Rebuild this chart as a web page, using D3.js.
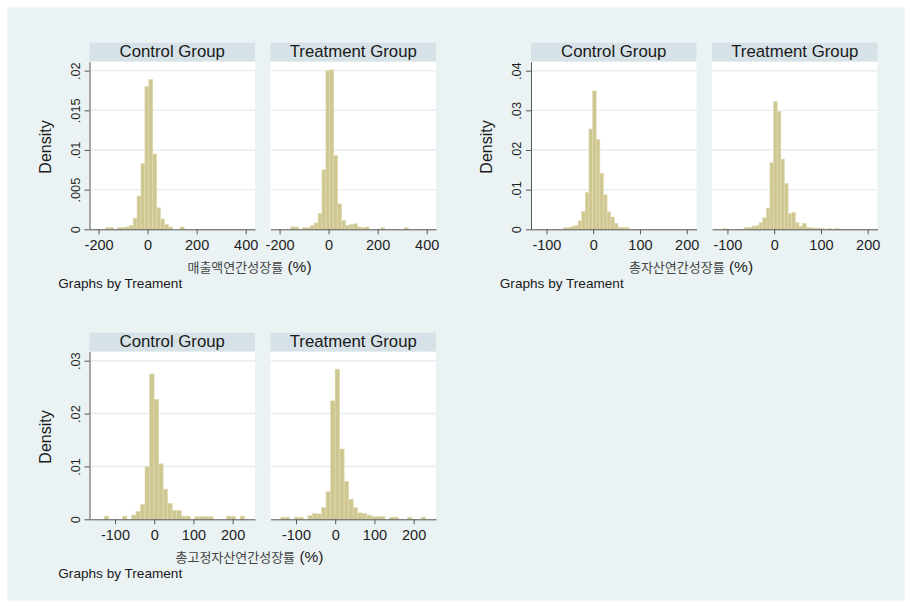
<!DOCTYPE html>
<html lang="ko">
<head>
<meta charset="UTF-8">
<title>Histogram by Treatment</title>
<script src="https://d3js.org/d3.v7.min.js"></script>
<style>
    body {
        margin: 0;
        background: #ffffff;
    }
    svg {
        display: block;
        font-family: "Liberation Sans", Arial, sans-serif;
    }
    .domain, .tick line {
        stroke: #555;
    }
    .tick text {
        fill: #1e1e1e;
    }
    .bar {
        fill: #cfc791;
        stroke: #e0dbb2;
        stroke-width: 0.6;
    }
</style>
</head>
<body>
<script>
    // Panel labels
    const groups = ["Control Group", "Treatment Group"];
    const varTitles = ["매출액연간성장률", "총자산연간성장률", "총고정자산연간성장률"];
    const byNote = "Graphs by Treament";

    // 매출액 (sales) growth: bins start at -235, width 16
    const salesBinStart = -235, salesBinWidth = 16;
    const salesControl = [0, 0, 0, 0, .0002, .0002, 0, .0002, .0002, .0003, .0005, .0014, .0042, .0083, .018, .0189,
        .0095, .0027, .0013, .0006, .0003, 0, 0, .0003, 0, 0, 0, 0, 0, 0, 0, 0, 0, 0, 0, 0, 0, 0, 0, 0, 0, 0];
    const salesTreatment = [0, 0, 0, 0, 0, .0003, .0003, 0, .0002, .0002, .0005, .0008, .002, .0075, .02, .0201,
        .0093, .0032, .0011, .0005, .0006, .0007, .0003, .0002, .0003, 0, 0, 0, .0002, 0, 0, 0, 0, 0, .0002, 0, 0, 0, 0, 0, 0, 0];
    const salesXDomain = [-237, 438];
    const salesXTicks = [-200, 0, 200, 400];
    const salesYTicks = [0, .005, .01, .015, .02];
    const salesYTop = 0.02113;

    // 총자산 (total assets) growth: bins start at -133, width 7.75
    const assetsBinStart = -133, assetsBinWidth = 7.75;
    const assetsControl = [0, 0, 0, 0, 0, 0, 0, 0, 0, .0004, .0005, .0007, .001, .0021, .0045, .0093, .0253, .0349,
        .0227, .0141, .0087, .0044, .0031, .0015, .0005, .0005, .0005, 0, 0, 0, 0, 0, 0, 0, 0, 0, 0, 0, 0, 0, 0, 0, 0, 0, 0];
    const assetsTreatment = [0, 0, 0, .0002, 0, 0, 0, 0, 0, .0005, .0005, .0008, .0009, .0017, .0029, .0053, .0168, .0322,
        .0297, .0177, .0116, .004, .0043, .0017, .0008, .0015, .0005, .0004, .0003, .0003, .0002, 0, .0002, 0, .0002,
        0, 0, 0, 0, 0, 0, 0, 0, 0, 0];
    const assetsXDomain = [-133, 221];
    const assetsXTicks = [-100, 0, 100, 200];
    const assetsYTicks = [0, .01, .02, .03, .04];
    const assetsYTop = 0.04227;

    // 총고정자산 (fixed assets) growth: bins start at -162, width 11.55
    const fixedBinStart = -162, fixedBinWidth = 11.55;
    const fixedControl = [0, 0, 0, .0006, 0, 0, 0, .0006, 0, .0008, .0015, .0028, .00995, .0275, .0227, .0105, .0057,
        .003, .0017, .0017, .0006, .0006, 0, .0005, .0005, .0005, .0005, 0, 0, 0, .0006, .0006, 0, .0006, 0, 0];
    const fixedTreatment = [0, 0, .0004, .0004, 0, .0004, .0004, 0, .0007, .0011, .001, .0022, .0052, .0224, .0284,
        .0133, .0072, .0038, .0022, .0012, .0011, .0008, .0005, .0005, .0005, 0, .0004, .0004, 0, 0, .0004, 0, 0, .0004, 0, 0];
    const fixedXDomain = [-165, 257];
    const fixedXTicks = [-100, 0, 100, 200];
    const fixedYTicks = [0, .01, .02, .03];
    const fixedYTop = 0.0317;

    // Layout
    const width = 910;
    const height = 606;
    const blockLeft = [89.5, 531];
    const panelW = 165.5;
    const panelGap = 15.5;
    const rowTop = [42.7, 332.7];
    const headerH = 19;
    const plotH = 167.6;

    const charts = [
        { row: 0, block: 0, title: varTitles[0], start: salesBinStart, bw: salesBinWidth,
          series: [salesControl, salesTreatment], xDomain: salesXDomain, xTicks: salesXTicks,
          yTicks: salesYTicks, yTop: salesYTop },
        { row: 0, block: 1, title: varTitles[1], start: assetsBinStart, bw: assetsBinWidth,
          series: [assetsControl, assetsTreatment], xDomain: assetsXDomain, xTicks: assetsXTicks,
          yTicks: assetsYTicks, yTop: assetsYTop },
        { row: 1, block: 0, title: varTitles[2], start: fixedBinStart, bw: fixedBinWidth,
          series: [fixedControl, fixedTreatment], xDomain: fixedXDomain, xTicks: fixedXTicks,
          yTicks: fixedYTicks, yTop: fixedYTop }
    ];

    const svg = d3.select("body")
        .append("svg")
        .attr("width", width)
        .attr("height", height);

    // graph region
    svg.append("rect")
        .attr("x", 7.5)
        .attr("y", 7.5)
        .attr("width", 897)
        .attr("height", 593)
        .attr("fill", "#eaf2f3");

    const yLabel = d => d === 0 ? "0" : String(d).replace(/^0/, "");

    charts.forEach(c => {
        const top = rowTop[c.row];
        const plotTop = top + headerH;
        const plotBottom = plotTop + plotH;
        const left = blockLeft[c.block];

        const y = d3.scaleLinear()
            .domain([0, c.yTop])
            .range([plotBottom, plotTop]);

        c.series.forEach((values, g) => {
            const x0 = left + g * (panelW + panelGap);
            const x = d3.scaleLinear()
                .domain(c.xDomain)
                .range([x0, x0 + panelW]);

            const panel = svg.append("g");

            // header strip
            panel.append("rect")
                .attr("x", x0)
                .attr("y", top)
                .attr("width", panelW)
                .attr("height", headerH)
                .attr("fill", "#d6e2e7");

            panel.append("text")
                .attr("x", x0 + panelW / 2)
                .attr("y", top + 14.7)
                .attr("text-anchor", "middle")
                .attr("font-size", "16.8px")
                .attr("fill", "#1a1a1a")
                .text(groups[g]);

            // plot area
            panel.append("rect")
                .attr("x", x0)
                .attr("y", plotTop)
                .attr("width", panelW)
                .attr("height", plotH)
                .attr("fill", "#ffffff");

            panel.selectAll(".grid")
                .data(c.yTicks.filter(t => t > 0))
                .enter()
                .append("line")
                .attr("class", "grid")
                .attr("x1", x0)
                .attr("x2", x0 + panelW)
                .attr("y1", d => y(d))
                .attr("y2", d => y(d))
                .attr("stroke", "#e6eef0")
                .attr("stroke-width", 1.4);

            const bins = values.map((d, k) => ({
                a: c.start + k * c.bw,
                b: c.start + (k + 1) * c.bw,
                d: d
            })).filter(b => b.d > 0);

            panel.selectAll(".bar")
                .data(bins)
                .enter()
                .append("rect")
                .attr("class", "bar")
                .attr("x", d => x(d.a))
                .attr("width", d => x(d.b) - x(d.a))
                .attr("y", d => y(d.d))
                .attr("height", d => y(0) - y(d.d));

            // x axis
            panel.append("g")
                .attr("transform", `translate(0,${plotBottom})`)
                .call(d3.axisBottom(x)
                    .tickValues(c.xTicks)
                    .tickSize(5)
                    .tickSizeOuter(0)
                    .tickPadding(5)
                    .tickFormat(d => String(d)))
                .call(ax => ax.selectAll("text")
                    .attr("font-size", "14.5px")
                    .attr("font-family", "'Liberation Sans', Arial, sans-serif"));

            // y axis only on the left panel
            if (g === 0) {
                panel.append("g")
                    .attr("transform", `translate(${x0},0)`)
                    .call(d3.axisLeft(y)
                        .tickValues(c.yTicks)
                        .tickSize(5)
                        .tickSizeOuter(0)
                        .tickFormat(yLabel))
                    .call(ax => ax.selectAll("text")
                        .attr("transform", "rotate(-90)")
                        .attr("x", 0)
                        .attr("y", -10)
                        .attr("dy", 0)
                        .attr("text-anchor", "middle")
                        .attr("font-size", "12.8px")
                        .attr("font-family", "'Liberation Sans', Arial, sans-serif"));

                svg.append("text")
                    .attr("transform", `translate(${x0 - 39},${(plotTop + plotBottom) / 2 + 1.5}) rotate(-90)`)
                    .attr("text-anchor", "middle")
                    .attr("font-size", "16px")
                    .attr("fill", "#1a1a1a")
                    .text("Density");
            }
        });

        // x title and note
        const title = svg.append("text")
            .attr("x", left + 160)
            .attr("y", plotBottom + 43)
            .attr("text-anchor", "middle")
            .attr("fill", "#1e1e1e");
        title.append("tspan")
            .attr("font-family", "'Noto Sans CJK KR', sans-serif")
            .attr("font-size", "13px")
            .attr("fill", "#444")
            .text(c.title);
        title.append("tspan")
            .attr("font-size", "15.5px")
            .text(" (%)");

        svg.append("text")
            .attr("x", left - 31.2)
            .attr("y", plotBottom + 59)
            .attr("font-size", "13.6px")
            .attr("fill", "#1a1a1a")
            .text(byNote);
    });
</script>
</body>
</html>
